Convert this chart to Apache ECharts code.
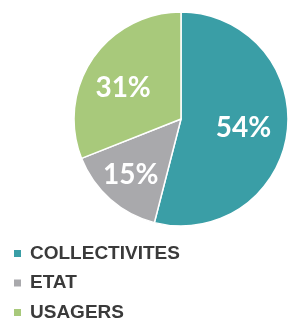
<!DOCTYPE html>
<html>
<head>
    <meta charset="utf-8">
    <title>Répartition</title>
    <script src="https://cdn.jsdelivr.net/npm/echarts@6/dist/echarts.min.js"></script>
    <style>
        html, body { margin: 0; padding: 0; background: #fff; }
    </style>
</head>
<body>
    <div id="main" style="width: 288px;height:320px;"></div>
    <script type="text/javascript">
        // données du graphique
        var categories = ['COLLECTIVITES', 'ETAT', 'USAGERS'];
        var values = [54, 15, 31];
        var colors = ['#3a9ea6', '#a9a9ac', '#a8c97b'];

        var myChart = echarts.init(document.getElementById('main'));

        var pieData = categories.map(function (name, i) {
            return { name: name, value: values[i], itemStyle: { color: colors[i] } };
        });
        // seconde série transparente, seulement pour placer les étiquettes plus loin du centre
        var labelData = categories.map(function (name, i) {
            return { name: name, value: values[i] };
        });

        var option = {
            animation: false,
            legend: {
                orient: 'vertical',
                left: 12,
                top: 244,
                width: 260,
                height: 120,
                padding: 0,
                icon: 'rect',
                itemWidth: 9,
                itemHeight: 9,
                itemGap: 10.5,
                data: categories,
                textStyle: {
                    fontFamily: 'Liberation Sans',
                    fontWeight: 'bold',
                    fontSize: 19,
                    lineHeight: 16,
                    padding: [0, 0, 0, 3],
                    color: '#3a3a3a'
                }
            },
            series: [{
                type: 'pie',
                center: [181, 119],
                radius: [0, 107],
                startAngle: 90,
                clockwise: true,
                silent: true,
                label: { show: false },
                labelLine: { show: false },
                itemStyle: { borderColor: '#fff', borderWidth: 1.5 },
                data: pieData
            }, {
                type: 'pie',
                center: [181, 119],
                radius: [0, 134],
                startAngle: 90,
                clockwise: true,
                silent: true,
                itemStyle: { color: 'rgba(0,0,0,0)' },
                label: {
                    show: true,
                    position: 'inside',
                    formatter: '{c}%',
                    color: '#fff',
                    fontFamily: 'Lato',
                    fontWeight: 'bold',
                    fontSize: 28
                },
                labelLayout: function (params) {
                    var shift = [[-7, 0], [-4, 3], [0, 8]][params.dataIndex];
                    return { dx: shift[0], dy: shift[1] };
                },
                labelLine: { show: false },
                data: labelData
            }]
        };

        myChart.setOption(option);
    </script>
</body>
</html>
